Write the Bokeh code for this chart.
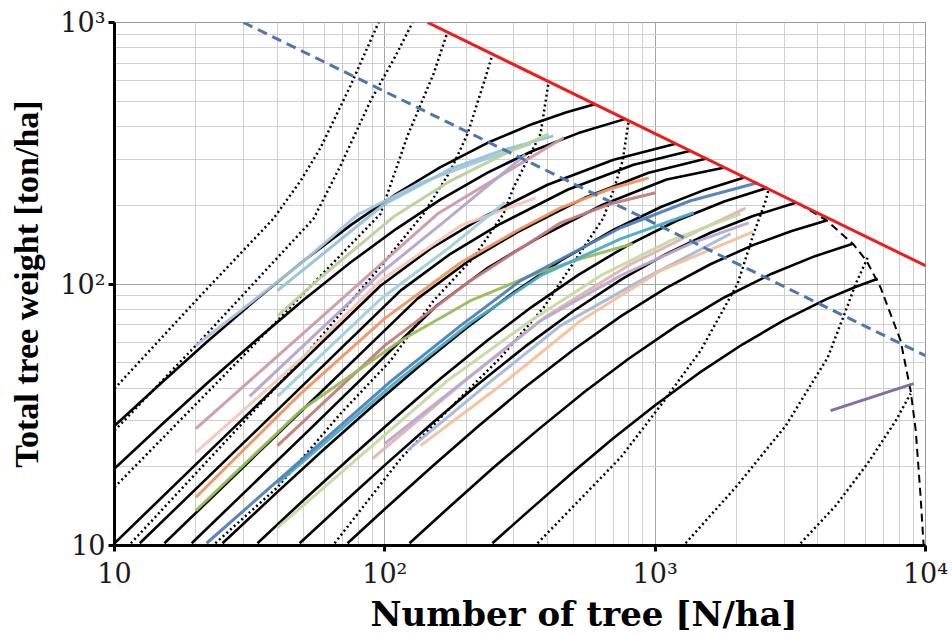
from bokeh.plotting import figure
from bokeh.models import Range1d, FixedTicker, Title
from bokeh.embed import file_html
from bokeh.resources import INLINE

# ---------------- axis ticks ----------------
x_ticks = [10, 100, 1000, 10000]
x_tick_labels = ["10", "10\u00b2", "10\u00b3", "10\u2074"]
x_minor = [20, 30, 40, 50, 60, 70, 80, 90, 200, 300, 400, 500, 600, 700, 800, 900,
           2000, 3000, 4000, 5000, 6000, 7000, 8000, 9000]
y_ticks = [10, 100, 1000]
y_tick_labels = ["10", "10\u00b2", "10\u00b3"]
y_minor = [20, 30, 40, 50, 60, 70, 80, 90, 200, 300, 400, 500, 600, 700, 800, 900]

x_title = "Number of tree [N/ha]"
y_title = "Total tree weight [ton/ha]"

# ---------------- full-density (red) and dashed blue lines ----------------
red_N = [144, 10000]
red_W = [1000, 117.5]
blue_dash_N = [30, 10000]
blue_dash_W = [1000, 53.2]

# ---------------- black dashed envelope ----------------
env_N = [3396, 4276, 5383, 6053, 6823, 8091, 8810, 9204, 9594, 9840]
env_W = [202.7, 176.0, 142.6, 122.7, 96.8, 60.7, 39.1, 27.5, 15.3, 10.0]

# ---------------- black solid curves (equal-height curves) ----------------
c1_N = [10, 15, 22, 33, 50, 75, 110, 160, 240, 350, 470, 602]
c1_W = [28.7, 42.1, 60.1, 86.2, 122.5, 168.3, 220.9, 279.4, 346.7, 408.5, 453.6, 488]
c2_N = [10, 15, 22, 33, 50, 75, 110, 160, 240, 350, 520, 777]
c2_W = [19.7, 29.1, 41.7, 60.3, 86.8, 121.3, 162.2, 209.6, 266.7, 321.9, 377.6, 428]
c3_N = [10, 31.8, 96.4, 147.6, 226, 400, 702, 1190]
c3_W = [10.2, 32.5, 98.5, 136.4, 178, 239.6, 298.5, 343.6]
c4_N = [12.4, 37.8, 114.3, 175, 268, 474, 832, 1352]
c4_W = [10.2, 31.1, 94.3, 130.5, 170, 229.3, 285.6, 323]
c5_N = [15.3, 44.8, 132.1, 202.3, 309.7, 548.3, 946, 1537]
c5_W = [10.2, 29.8, 87.9, 121.7, 158, 213.6, 266.3, 301.2]
c6_N = [19.3, 53.1, 155.3, 237.7, 364, 639.7, 1102, 1792]
c6_W = [10.2, 28, 82.6, 114.4, 148.9, 200.9, 251, 278.2]
c7_N = [25.1, 40, 60, 90, 135, 200, 300, 450, 700, 1050, 1500, 2123]
c7_W = [10.2, 16.0, 23.5, 34.1, 48.8, 67.8, 92.9, 123.3, 160.9, 197, 227.6, 254.7]
c8_N = [33.8, 50, 75, 110, 160, 240, 350, 520, 800, 1200, 1800, 2606]
c8_W = [10.2, 14.9, 21.8, 31.0, 43.3, 60.9, 81.8, 108.4, 141.5, 174.5, 206.8, 233.4]
c9_N = [48.4, 70, 100, 150, 220, 330, 500, 750, 1100, 1600, 2300, 3311]
c9_W = [10.2, 14.5, 20.3, 29.4, 41.2, 57.6, 79.0, 104.1, 130.4, 157.0, 181.9, 204.5]
c10_N = [72.8, 100, 150, 220, 330, 500, 750, 1100, 1600, 2300, 3200, 4276]
c10_W = [10.2, 13.8, 20.1, 28.4, 40.3, 56.2, 75.5, 96.7, 119.0, 140.8, 159.5, 174.5]
c11_N = [123.4, 170, 250, 370, 550, 800, 1200, 1800, 2700, 3900, 5383]
c11_W = [10.2, 13.8, 19.7, 27.8, 38.8, 51.9, 69.2, 88.8, 109.5, 127.8, 142.6]
c12_N = [250, 350, 500, 700, 1000, 1450, 2100, 3000, 4300, 5500, 6653]
c12_W = [10.2, 13.9, 19.2, 25.7, 34.4, 45.6, 58.7, 72.7, 87.5, 97.4, 104.8]

# ---------------- black dotted curves ----------------
d1_N = [10, 20.8, 38.7, 48.8, 57.8, 74.6, 94.8]
d1_W = [39.8, 90.2, 177.7, 248.1, 331.7, 572.4, 1000]
d2_N = [10, 20.8, 54.5, 68.5, 88.5, 109.6, 126.6]
d2_W = [27.5, 60.7, 177.7, 283, 501.6, 745, 1000]
d3_N = [10, 31.8, 96.4, 121.3, 151.4, 170.6]
d3_W = [16.7, 56.6, 185.6, 368.6, 636, 920.4]
d4_N = [11.5, 48.8, 98.9, 139, 175, 202.3, 231.7, 250.4]
d4_W = [10.2, 50.9, 120.6, 185.6, 271, 375.2, 582.5, 757]
d5_N = [23.6, 40.1, 68.5, 105, 151.4, 212.8, 274.8, 299.2, 376.7, 403.6]
d5_W = [10.2, 16.7, 31.9, 50.9, 86.3, 126, 185.6, 233.4, 375.2, 594]
d6_N = [65.2, 115.3, 170.6, 268, 386.4, 644.2, 714, 758, 798]
d6_W = [10.2, 21.7, 32.8, 52.3, 81.2, 179.2, 241.7, 295.8, 421]
d7_N = [367.3, 745, 1047, 1472, 2018, 2312, 2563, 2630]
d7_W = [10.2, 21.7, 34.3, 55.6, 100.2, 155.6, 208.1, 231]
d8_N = [1296, 1986, 3041, 4346, 5070, 5521, 6109]
d8_W = [10.2, 16.7, 28.7, 52.3, 79.1, 100.2, 126]
d9_N = [3451, 4656, 6109, 7762, 8810]
d9_W = [10.2, 14.2, 20.6, 30.0, 38.1]

# ---------------- measured stand series (coloured) ----------------
lb1_N = [20, 48.8, 79.3, 135.5, 226, 346]
lb1_W = [58.1, 119.5, 184, 243.8, 295.8, 343.6]
lb2_N = [40.1, 98.9, 175, 268, 420.7]
lb2_W = [94.3, 200.9, 275.7, 323, 368.6]
lg_N = [40.1, 57.8, 107.7, 175, 268, 403.6]
lg_W = [75.6, 105.7, 180.7, 248.1, 309, 375.2]
rose_N = [20, 48.8, 156.7, 268, 458]
rose_W = [28, 63.5, 185.6, 259.4, 362.2]
lav1_N = [31.6, 96.4, 168, 331]
lav1_W = [37.2, 110, 175, 312]
peach_N = [20, 48.8, 96.4, 190.6, 361.4]
peach_W = [22.7, 51.5, 103, 167, 213.6]
lcyan_N = [40.1, 96.4, 175, 278]
lcyan_W = [37.2, 87.6, 139, 205]
orange_N = [20, 48.8, 99.8, 190.6, 317.7, 446.7, 684, 946]
orange_W = [15.3, 38.1, 73.7, 120.6, 162.7, 195.6, 231.3, 254.7]
brown_N = [40.1, 99.8, 207.5, 446.7, 684, 1004]
brown_W = [24.1, 58.1, 103, 171.4, 202.7, 223.4]
green_N = [20, 48.8, 114.3, 207.5, 346, 530, 826]
green_W = [13.6, 32.8, 60.7, 86.3, 107.6, 124.9, 142.6]
blue_N = [21.9, 48.8, 105.9, 190.6, 317.7, 530, 745, 1352, 2393]
blue_W = [10.2, 21.1, 42.7, 69.3, 103, 136.4, 164.1, 208.1, 243.8]
cyan_N = [40.1, 111.4, 207.5, 376.7, 745, 1387]
cyan_W = [17.3, 42.7, 71.1, 107.6, 148.9, 187.3]
pink_N = [90, 200, 400, 800, 1500, 2160]
pink_W = [21.5, 43, 76, 118, 163, 195]
palegreen_N = [40.1, 170.6, 346, 628, 1140, 2070]
palegreen_W = [11.7, 42.7, 72.4, 107.6, 146.4, 185.6]
lavender_N = [99.8, 197.2, 376.7, 745, 1352, 2218]
lavender_W = [24.5, 42.7, 72.4, 107.6, 142.6, 171.4]
bluegrey_N = [121.3, 248.3, 446.7, 883, 1901]
bluegrey_W = [23.1, 42.7, 69.3, 103, 155.6]
lightorange_N = [135.5, 268, 530, 1047, 2296]
lightorange_W = [24.1, 40.9, 72.4, 112.4, 158.4]
purple_N = [4456, 9036]
purple_W = [32.8, 41.6]

# ---------------- figure ----------------
p = figure(width=952, height=634, x_axis_type="log", y_axis_type="log",
           x_range=Range1d(10, 10000), y_range=Range1d(10, 1000),
           output_backend="svg", toolbar_location=None,
           min_border_left=114, min_border_right=27, min_border_top=22,
           min_border_bottom=89)
p.background_fill_color = "white"
p.border_fill_color = "white"
p.outline_line_color = "#9a9a9a"
p.outline_line_width = 1

xt = FixedTicker(ticks=x_ticks, minor_ticks=x_minor)
yt = FixedTicker(ticks=y_ticks, minor_ticks=y_minor)
p.xaxis.ticker = xt
p.yaxis.ticker = yt
p.xgrid.ticker = xt
p.ygrid.ticker = yt
p.xaxis.major_label_overrides = dict(zip(x_ticks, x_tick_labels))
p.yaxis.major_label_overrides = dict(zip(y_ticks, y_tick_labels))

for g in (p.xgrid, p.ygrid):
    g.grid_line_color = "#a6a6a6"
    g.grid_line_width = 1
    g.minor_grid_line_color = "#cfcfcf"
    g.minor_grid_line_width = 1

for ax in (p.xaxis, p.yaxis):
    ax.axis_line_color = "black"
    ax.axis_line_width = 3
    ax.major_tick_line_color = "black"
    ax.major_tick_line_width = 3
    ax.major_tick_in = 0
    ax.major_tick_out = 6
    ax.minor_tick_line_color = None
    ax.major_label_text_font = "DejaVu Serif"
    ax.major_label_text_font_size = "27px"
    ax.major_label_text_color = "#1a1a1a"

p.yaxis.major_label_standoff = 3
p.xaxis.major_label_standoff = 6
p.yaxis.axis_label = y_title
p.yaxis.axis_label_text_font = "Liberation Serif"
p.yaxis.axis_label_text_font_style = "bold"
p.yaxis.axis_label_text_font_size = "34px"
p.yaxis.axis_label_text_color = "black"
p.yaxis.axis_label_standoff = 12

dotted = [(d1_N, d1_W), (d2_N, d2_W), (d3_N, d3_W), (d4_N, d4_W), (d5_N, d5_W),
          (d6_N, d6_W), (d7_N, d7_W), (d8_N, d8_W), (d9_N, d9_W)]
for n, w in dotted:
    p.line(n, w, line_color="black", line_width=2.5, line_dash="2 3")

solid = [(c1_N, c1_W), (c2_N, c2_W), (c3_N, c3_W), (c4_N, c4_W), (c5_N, c5_W),
         (c6_N, c6_W), (c7_N, c7_W), (c8_N, c8_W), (c9_N, c9_W), (c10_N, c10_W),
         (c11_N, c11_W), (c12_N, c12_W)]
for n, w in solid:
    p.line(n, w, line_color="black", line_width=2.6, line_join="round")

p.line(env_N, env_W, line_color="black", line_width=2, line_dash="8 5")

coloured = [
    (lb1_N, lb1_W, "#a9c4de"),
    (lb2_N, lb2_W, "#92c3d8"),
    (lg_N, lg_W, "#b8d39a"),
    (rose_N, rose_W, "#cc9aaa"),
    (lav1_N, lav1_W, "#b4a4cc"),
    (peach_N, peach_W, "#f3c8b4"),
    (lcyan_N, lcyan_W, "#9fd0de"),
    (brown_N, brown_W, "#c47c7a"),
    (orange_N, orange_W, "#f09660"),
    (green_N, green_W, "#9bbb59"),
    (pink_N, pink_W, "#e3b3b3"),
    (palegreen_N, palegreen_W, "#c6d9a2"),
    (lavender_N, lavender_W, "#b8a9cf"),
    (bluegrey_N, bluegrey_W, "#a3b9da"),
    (lightorange_N, lightorange_W, "#f7bf98"),
    (cyan_N, cyan_W, "#4bacc6"),
    (blue_N, blue_W, "#4f81bd"),
    (purple_N, purple_W, "#8064a2"),
]
for n, w, c in coloured:
    p.line(n, w, line_color=c, line_width=3, line_alpha=0.95, line_join="round")

p.line(red_N, red_W, line_color="#ee1c1c", line_width=3)
p.line(blue_dash_N, blue_dash_W, line_color="#4a78ad", line_width=3, line_dash="10 6")

p.add_layout(Title(text=x_title, align="left", offset=256, standoff=0,
                   text_font="DejaVu Serif", text_font_style="bold",
                   text_font_size="34px", text_color="black"), "below")

open("out.html", "w").write(file_html(p, INLINE))
